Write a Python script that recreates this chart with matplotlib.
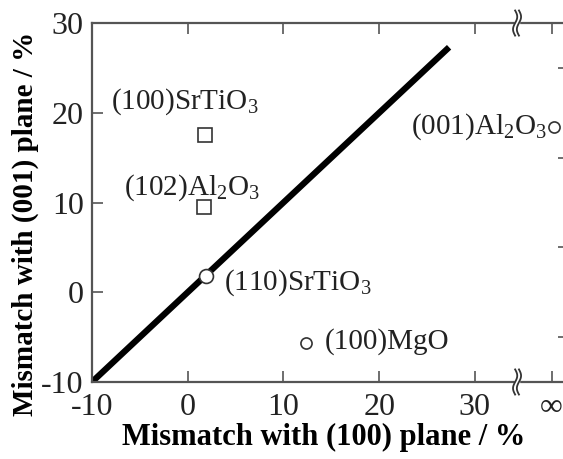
import matplotlib

matplotlib.use("Agg")
import matplotlib.pyplot as plt
import numpy as np

plt.rcParams["font.family"] = ["Liberation Serif", "DejaVu Serif"]
plt.rcParams["mathtext.fontset"] = "custom"
plt.rcParams["mathtext.rm"] = "Liberation Serif"
plt.rcParams["axes.unicode_minus"] = False

# substrate mismatch data (%), x = with (100) plane, y = with (001) plane
SQ_X = [1.8, 1.7]
SQ_Y = [17.5, 9.5]
CIRC_X = [1.9, 12.4, 38.3]
CIRC_Y = [1.8, -5.7, 18.4]
LINE_X = [-10, 27.3]
LINE_Y = [-10, 27.3]

INF_X = 38.0      # where "infinity" sits on the x axis
BREAK_X = 34.4    # axis break

XTICKS = [-10, 0, 10, 20, 30, INF_X]
XTICKLABELS = ["-10", "0", "10", "20", "30", "∞"]
YTICKS = [-10, 0, 10, 20, 30]

LABELS = [
    ("(100)SrTiO$_3$", -8.0, 21.2, "left"),
    ("(102)Al$_2$O$_3$", -6.7, 11.6, "left"),
    ("(110)SrTiO$_3$", 3.8, 1.1, "left"),
    ("(100)MgO", 14.3, -5.5, "left"),
    ("(001)Al$_2$O$_3$", 37.5, 18.4, "right"),
]

fig = plt.figure(figsize=(5.63, 4.59), dpi=100)
ax = fig.add_axes([0.1634, 0.1678, 0.840, 0.782])
ax.set_xlim(-10, 39.4)
ax.set_ylim(-10, 30)

ax.plot(LINE_X, LINE_Y, color="black", lw=4.5, solid_capstyle="butt", zorder=2)
ax.plot(SQ_X, SQ_Y, ls="none", marker="s", ms=10, mfc="white", mec="#333333", mew=1.2, zorder=3)
ax.plot(CIRC_X[:1], CIRC_Y[:1], ls="none", marker="o", ms=10, mfc="white", mec="#333333", mew=1.2, zorder=3)
ax.plot(CIRC_X[1:], CIRC_Y[1:], ls="none", marker="o", ms=8, mfc="white", mec="#333333", mew=1.2, zorder=3)

for txt, x, y, ha in LABELS:
    ax.text(x, y, txt, fontsize=21, ha=ha, va="center", color="#222222")

for s in ax.spines.values():
    s.set_linewidth(1.6)
    s.set_color("#555555")

ax.set_xticks(XTICKS)
ax.set_xticklabels(XTICKLABELS)
ax.set_yticks(YTICKS)
ax.tick_params(direction="in", length=8, width=1.2, color="#555555",
               labelsize=23, labelcolor="#222222", top=True, right=False)
ax.tick_params(axis="x", pad=8)
ax.tick_params(axis="y", pad=6)
# short ticks every 5 on the right side
ax.set_yticks(np.arange(-5, 30, 5), minor=True)
ax.tick_params(which="minor", direction="in", length=5, width=1.2, color="#555555",
               left=False, right=True)

# axis break marks (two wavy strokes) on top and bottom spines
t = np.linspace(-1, 1, 40)
for yb in (-10, 30):
    ax.add_patch(plt.Rectangle((BREAK_X - 0.25, yb - 0.4), 0.5, 0.8, color="white",
                               clip_on=False, zorder=4))
    for off in (-0.2, 0.2):
        ax.plot(BREAK_X + off + 0.22 * np.sin(np.pi * t), yb + 1.4 * t,
                color="#333333", lw=1.3, clip_on=False, zorder=5)

ax.set_xlabel("Mismatch with (100) plane / %", fontsize=22, fontweight="bold")
ax.set_ylabel("Mismatch with (001) plane / %", fontsize=21, fontweight="bold")
ax.xaxis.set_label_coords(0.49, -0.115)
ax.yaxis.set_label_coords(-0.112, 0.44)

fig.savefig("out.png", dpi=100)
